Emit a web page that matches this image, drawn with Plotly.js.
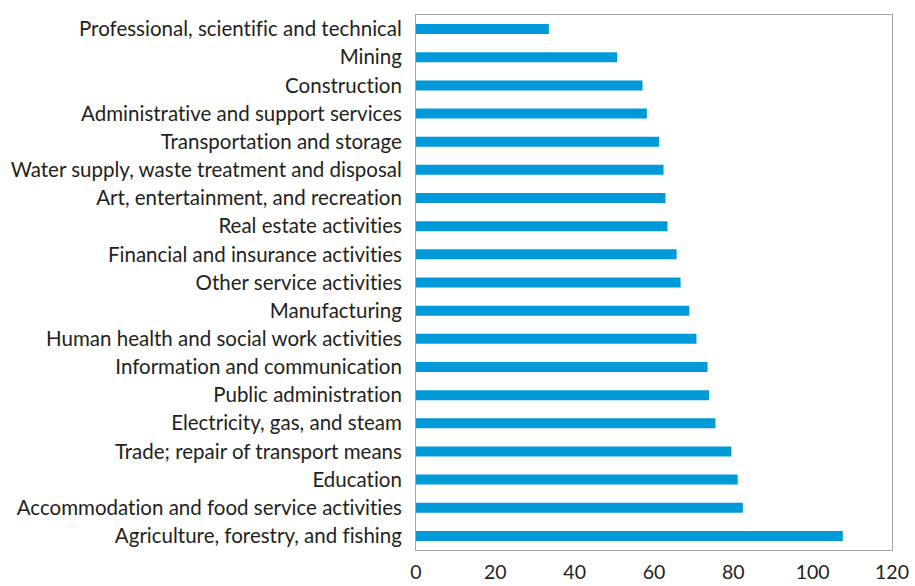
<!DOCTYPE html>
<html>
<head>
<meta charset="utf-8">
<script src="https://cdn.plot.ly/plotly-3.0.1.min.js"></script>
<style>
html,body{margin:0;padding:0;background:#fff;}
#chart{width:915px;height:586px;}
#chart text{font-variant-ligatures:none !important;font-feature-settings:"liga" 0, "clig" 0 !important;}
</style>
</head>
<body>
<div id="chart"></div>
<script>
const categories = [
  "Professional, scientific and technical",
  "Mining",
  "Construction",
  "Administrative and support services",
  "Transportation and storage",
  "Water supply, waste treatment and disposal",
  "Art, entertainment, and recreation",
  "Real estate activities",
  "Financial and insurance activities",
  "Other service activities",
  "Manufacturing",
  "Human health and social work activities",
  "Information and communication",
  "Public administration",
  "Electricity, gas, and steam",
  "Trade; repair of transport means",
  "Education",
  "Accommodation and food service activities",
  "Agriculture, forestry, and fishing"
];
const values = [33.5, 50.7, 57.1, 58.2, 61.3, 62.4, 62.9, 63.4, 65.7, 66.7, 68.9, 70.7, 73.5, 73.9, 75.5, 79.5, 81.1, 82.4, 107.6];
const xTicks = [0, 20, 40, 60, 80, 100, 120];

const trace = {
  type: 'bar',
  orientation: 'h',
  x: values,
  y: categories,
  marker: {color: '#009ad9'},
  hoverinfo: 'x+y'
};

const layout = {
  width: 915,
  height: 586,
  margin: {l: 416, r: 23, t: 15, b: 36},
  paper_bgcolor: '#ffffff',
  plot_bgcolor: '#ffffff',
  showlegend: false,
  bargap: 0.645,
  font: {family: 'Lato, "Open Sans", sans-serif', size: 20, color: '#231f20'},
  xaxis: {
    range: [0, 120],
    tickvals: xTicks,
    ticktext: xTicks.map(String),
    showgrid: false,
    zeroline: false,
    showline: true,
    linecolor: '#a6a6a6',
    linewidth: 1,
    mirror: true,
    ticks: '',
    ticklabelstandoff: 5,
    tickfont: {size: 19.5}
  },
  yaxis: {
    type: 'category',
    categoryorder: 'array',
    categoryarray: categories,
    autorange: 'reversed',
    showgrid: false,
    zeroline: false,
    showline: true,
    linecolor: '#a6a6a6',
    linewidth: 1,
    mirror: true,
    ticks: '',
    ticklabelstandoff: 9,
    tickfont: {size: 20.5}
  }
};

Plotly.newPlot('chart', [trace], layout, {displayModeBar: false, staticPlot: true});
</script>
</body>
</html>
